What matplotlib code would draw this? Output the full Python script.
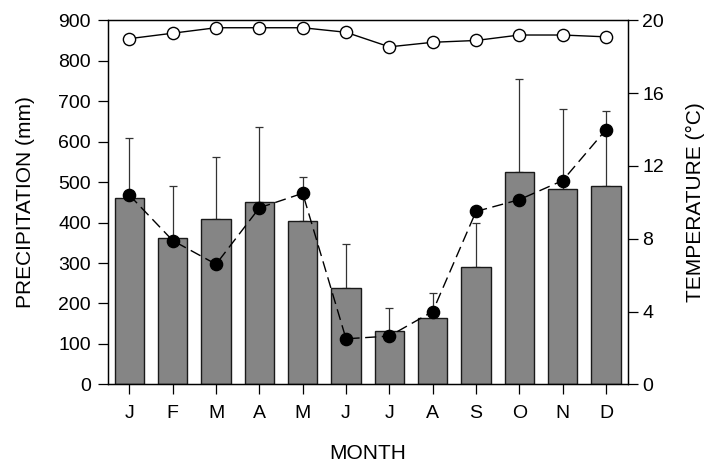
import matplotlib
matplotlib.use("Agg")
import matplotlib.pyplot as plt
import numpy as np

plt.rcParams['font.family'] = ['Liberation Sans', 'DejaVu Sans']

months = ["J", "F", "M", "A", "M", "J", "J", "A", "S", "O", "N", "D"]
precip = [461, 361, 409, 451, 405, 239, 133, 163, 291, 526, 482, 491]
precip_top = [610, 491, 563, 636, 513, 348, 189, 225, 400, 756, 681, 677]
temp_min = [10.4, 7.9, 6.6, 9.7, 10.5, 2.5, 2.65, 4.0, 9.5, 10.15, 11.2, 14.0]
temp_max = [19.0, 19.3, 19.6, 19.6, 19.6, 19.35, 18.55, 18.8, 18.9, 19.2, 19.2, 19.1]

x = np.arange(len(months))
err_up = np.array(precip_top) - np.array(precip)
err_lo = np.zeros(len(months))

fig = plt.figure(figsize=(7.11, 4.63), dpi=100)
ax = fig.add_axes([0.1515, 0.17, 0.7313, 0.7858])

ax.bar(x, precip, width=0.68, color="#858585", edgecolor="#1a1a1a", linewidth=1.0, zorder=2)
ax.errorbar(x, precip, yerr=[err_lo, err_up], fmt="none", ecolor="#333333",
            elinewidth=0.9, capsize=3, capthick=0.9, zorder=1)

ax.set_xlim(-0.5, 11.5)
ax.set_ylim(0, 900)
ax.set_yticks(range(0, 901, 100))
ax.set_xticks(x)
ax.set_xticklabels(months)
ax.tick_params(axis="both", direction="out", length=7, width=0.9, labelsize=14)
ax.tick_params(axis="y", pad=5)
ax.tick_params(axis="x", pad=8)
ax.set_ylabel("PRECIPITATION (mm)", fontsize=15)
ax.set_xlabel("MONTH", fontsize=15)
ax.yaxis.set_label_coords(-0.140, 0.5)
ax.xaxis.set_label_coords(0.5, -0.163)

ax2 = ax.twinx()
ax2.plot(x, temp_min, color="black", linestyle=(0, (8, 4)), linewidth=1.0,
         marker="o", markersize=8.8, markerfacecolor="black", zorder=3)
ax2.plot(x, temp_max, color="black", linestyle="-", linewidth=1.0,
         marker="o", markersize=8.8, markerfacecolor="white", markeredgewidth=1.0, zorder=3)
ax2.set_ylim(0, 20)
ax2.set_yticks(range(0, 21, 4))
ax2.tick_params(axis="y", direction="out", length=7, width=0.9, labelsize=14, pad=3.5)
ax2.set_ylabel("TEMPERATURE (°C)", fontsize=15)
ax2.yaxis.set_label_coords(1.113, 0.5)

for a in (ax, ax2):
    for s in a.spines.values():
        s.set_linewidth(0.9)

fig.savefig("out.png", dpi=100)
